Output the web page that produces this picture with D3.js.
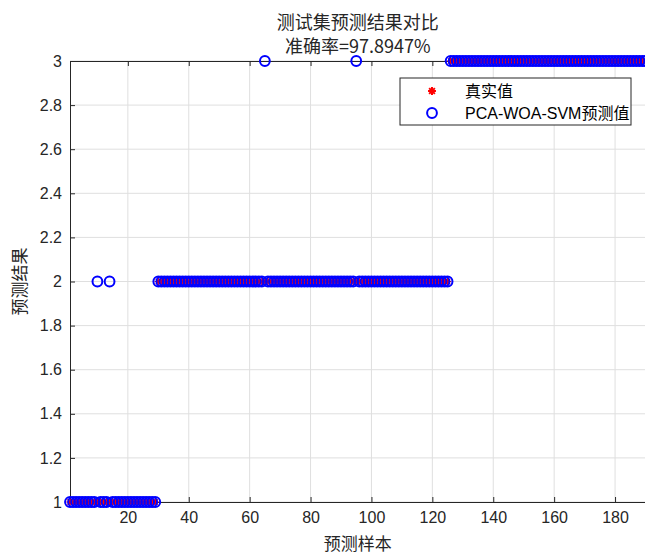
<!DOCTYPE html>
<html>
<head>
<meta charset="utf-8">
<script src="https://cdn.jsdelivr.net/npm/d3@7"></script>
<style>
  body { margin: 0; background: #fff; }
  svg { display: block; }
</style>
</head>
<body>
<div id="chart"></div>
<script>
// classes of the sorted test samples (true label, first/last sample)
const classRanges = [
  { label: 1, from: 1, to: 29 },
  { label: 2, from: 30, to: 125 },
  { label: 3, from: 126, to: 190 }
];
// misclassified samples: index -> predicted label
const errorSamples = [
  { index: 10, pred: 2 },
  { index: 14, pred: 2 },
  { index: 65, pred: 3 },
  { index: 95, pred: 3 }
];
const xTicks = [20, 40, 60, 80, 100, 120, 140, 160, 180];
const yTicks = [1, 1.2, 1.4, 1.6, 1.8, 2, 2.2, 2.4, 2.6, 2.8, 3];
const titleLines = ['测试集预测结果对比', '准确率=97.8947%'];
const legendLabels = ['真实值', 'PCA-WOA-SVM预测值'];

const trueVals = [];
classRanges.forEach(c => {
  for (let i = c.from; i <= c.to; i++) trueVals.push({ i, v: c.label });
});
const predVals = trueVals.map(d => {
  const e = errorSamples.find(x => x.index === d.i);
  return { i: d.i, v: e ? e.pred : d.v };
});

const width = 645, height = 555;
const margin = { top: 61, right: 0, bottom: 53, left: 70 };
const axisColor = '#262626';

const svg = d3.select('#chart').append('svg')
  .attr('width', width)
  .attr('height', height);

const x = d3.scaleLinear().domain([1, 190]).range([margin.left, 645.5]);
const y = d3.scaleLinear().domain([1, 3]).range([height - margin.bottom, margin.top]);

// grid
svg.append('g').selectAll('line.gx')
  .data(xTicks).join('line')
  .attr('x1', d => x(d)).attr('x2', d => x(d))
  .attr('y1', y(1)).attr('y2', y(3))
  .style('stroke', '#dfdfdf').style('stroke-width', 1);
svg.append('g').selectAll('line.gy')
  .data(yTicks).join('line')
  .attr('x1', x(1)).attr('x2', x(190))
  .attr('y1', d => y(d)).attr('y2', d => y(d))
  .style('stroke', '#dfdfdf').style('stroke-width', 1);

// axes (MATLAB style: ticks inward, box on)
const fmt = d => String(+d.toFixed(1));
const xAxis = d3.axisBottom(x).tickValues(xTicks).tickSizeInner(-5).tickSizeOuter(0).tickPadding(10);
const yAxis = d3.axisLeft(y).tickValues(yTicks).tickFormat(fmt).tickSizeInner(-5).tickSizeOuter(0).tickPadding(8);
const xTop = d3.axisTop(x).tickValues(xTicks).tickFormat('').tickSizeInner(-5).tickSizeOuter(0);

function styleAxis(g) {
  g.selectAll('path, line').style('stroke', axisColor).style('stroke-width', 1);
  g.selectAll('text')
    .style('font-family', 'Liberation Sans, Arial, sans-serif')
    .style('font-size', '16px')
    .style('fill', axisColor);
}

svg.append('g').attr('transform', `translate(0,${y(1)})`).call(xAxis).call(styleAxis);
svg.append('g').attr('transform', `translate(${x(1)},0)`).call(yAxis).call(styleAxis);
svg.append('g').attr('transform', `translate(0,${y(3)})`).call(xTop).call(styleAxis);

// true values: red asterisks
const s = 3.6;
const starPath = `M${-s},0L${s},0M0,${-s}L0,${s}` +
  `M${-s * 0.72},${-s * 0.72}L${s * 0.72},${s * 0.72}M${-s * 0.72},${s * 0.72}L${s * 0.72},${-s * 0.72}`;
svg.append('g').selectAll('path')
  .data(trueVals).join('path')
  .attr('transform', d => `translate(${x(d.i)},${y(d.v)})`)
  .attr('d', starPath)
  .style('fill', 'none').style('stroke', '#ff0000').style('stroke-width', 1.2);

// predictions: blue circles
svg.append('g').selectAll('circle')
  .data(predVals).join('circle')
  .attr('cx', d => x(d.i)).attr('cy', d => y(d.v))
  .attr('r', 4.9)
  .style('fill', 'none').style('stroke', '#0000ff').style('stroke-width', 2);

// titles
svg.append('g').selectAll('text')
  .data(titleLines).join('text')
  .attr('x', (x(1) + x(190)) / 2)
  .attr('y', (d, i) => 29 + i * 24)
  .attr('text-anchor', 'middle')
  .text(d => d)
  .style('font-family', 'Noto Sans CJK SC, sans-serif')
  .style('font-size', '18px')
  .style('fill', axisColor);

svg.append('text')
  .attr('x', (x(1) + x(190)) / 2)
  .attr('y', 550)
  .attr('text-anchor', 'middle')
  .text('预测样本')
  .style('font-family', 'Noto Sans CJK SC, sans-serif')
  .style('font-size', '17px')
  .style('fill', axisColor);

svg.append('text')
  .attr('transform', `translate(26,${y(2)}) rotate(-90)`)
  .attr('text-anchor', 'middle')
  .text('预测结果')
  .style('font-family', 'Noto Sans CJK SC, sans-serif')
  .style('font-size', '17px')
  .style('fill', axisColor);

// legend
const lg = svg.append('g').attr('transform', 'translate(400,78)');
lg.append('rect')
  .attr('width', 231).attr('height', 47)
  .style('fill', '#fff').style('stroke', axisColor).style('stroke-width', 1);
lg.append('path')
  .attr('transform', 'translate(32,13) scale(1.1)')
  .attr('d', starPath)
  .style('fill', 'none').style('stroke', '#ff0000').style('stroke-width', 1.8);
lg.append('circle')
  .attr('cx', 32).attr('cy', 35).attr('r', 4.9)
  .style('fill', 'none').style('stroke', '#0000ff').style('stroke-width', 2);
lg.selectAll('text')
  .data(legendLabels).join('text')
  .attr('x', 65)
  .attr('y', (d, i) => 19 + i * 22)
  .text(d => d)
  .style('font-family', 'Liberation Sans, Noto Sans CJK SC, sans-serif')
  .style('font-size', '16px')
  .style('fill', '#000');
</script>
</body>
</html>
